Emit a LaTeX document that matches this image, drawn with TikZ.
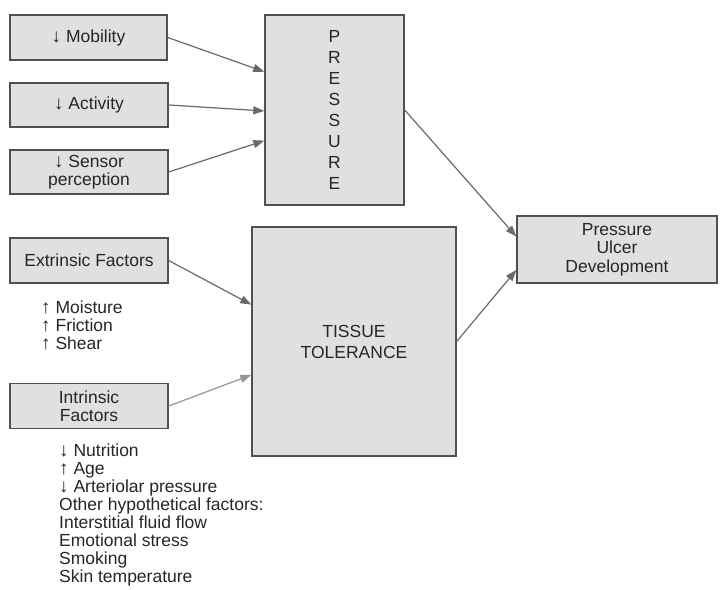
\documentclass[tikz,border=0pt]{standalone}
\usepackage{fontspec}
\setmainfont{Liberation Sans}
\usetikzlibrary{arrows.meta,calc}
\definecolor{boxfill}{HTML}{E0E0E0}
\definecolor{boxline}{HTML}{505050}
\definecolor{arrline}{HTML}{6A6A6A}
\definecolor{txt}{HTML}{262626}
\newcommand{\dn}{{\fontsize{19}{18}\selectfont↓}}
\newcommand{\up}{{\fontsize{19}{18}\selectfont↑}}
\begin{document}
\begin{tikzpicture}[x=1pt,y=-1pt,
  box/.style={draw=boxline,fill=boxfill,line width=1.4pt,inner sep=2pt,align=center,
    text=txt,font=\fontsize{17.5}{18.5}\selectfont},
  conn/.style={draw=arrline,line width=1.2pt,-{Triangle[length=11pt,width=8pt]}},
  lst/.style={text=txt,font=\fontsize{17.5}{18}\selectfont,align=left,inner sep=0pt,anchor=north west}]
\useasboundingbox[fill=white] (0,0) rectangle (720,589);
\node[box,minimum width=157pt,minimum height=45pt] (mob) at (88.5,37.5) {\dn\ Mobility};
\node[box,minimum width=158pt,minimum height=44pt] (act) at (89,105) {\dn\ Activity};
\node[box,minimum width=158pt,minimum height=44pt] (sen) at (89,172) {\dn\ Sensor\\perception};
\node[box,minimum width=139pt,minimum height=190pt,font=\fontsize{17.5}{21}\selectfont] (pre) at (334.5,110) {P\\R\\E\\S\\S\\U\\R\\E};
\node[box,minimum width=158pt,minimum height=45pt] (ext) at (89,260.5) {Extrinsic Factors};
\node[box,minimum width=158pt,minimum height=45pt] (int) at (89,406) {Intrinsic\\Factors};
\node[box,minimum width=204pt,minimum height=229pt,font=\fontsize{17.5}{21}\selectfont] (tis) at (354,341.5) {TISSUE\\TOLERANCE};
\node[box,minimum width=200pt,minimum height=67pt] (pud) at (617,249.5) {Pressure\\Ulcer\\Development};
\node[lst] (ext list) at (41,301) {\up\ Moisture\\\up\ Friction\\\up\ Shear};
\node[lst] (int list) at (59,444) {\dn\ Nutrition\\\up\ Age\\\dn\ Arteriolar pressure\\Other hypothetical factors:\\Interstitial fluid flow\\Emotional stress\\Smoking\\Skin temperature};
\draw[conn] (mob.east) -- ($(pre.north west)!0.30!(pre.south west)$);
\draw[conn] (act.east) -- ($(pre.north west)!0.505!(pre.south west)$);
\draw[conn] (sen.east) -- ($(pre.north west)!0.66!(pre.south west)$);
\draw[conn] (ext.east) -- ($(tis.north west)!0.34!(tis.south west)$);
\draw[conn,draw=arrline!70] (int.east) -- ($(tis.north west)!0.645!(tis.south west)$);
\draw[conn] (pre.east) -- ($(pud.north west)!0.31!(pud.south west)$);
\draw[conn] (tis.east) -- ($(pud.north west)!0.80!(pud.south west)$);
\end{tikzpicture}
\end{document}
